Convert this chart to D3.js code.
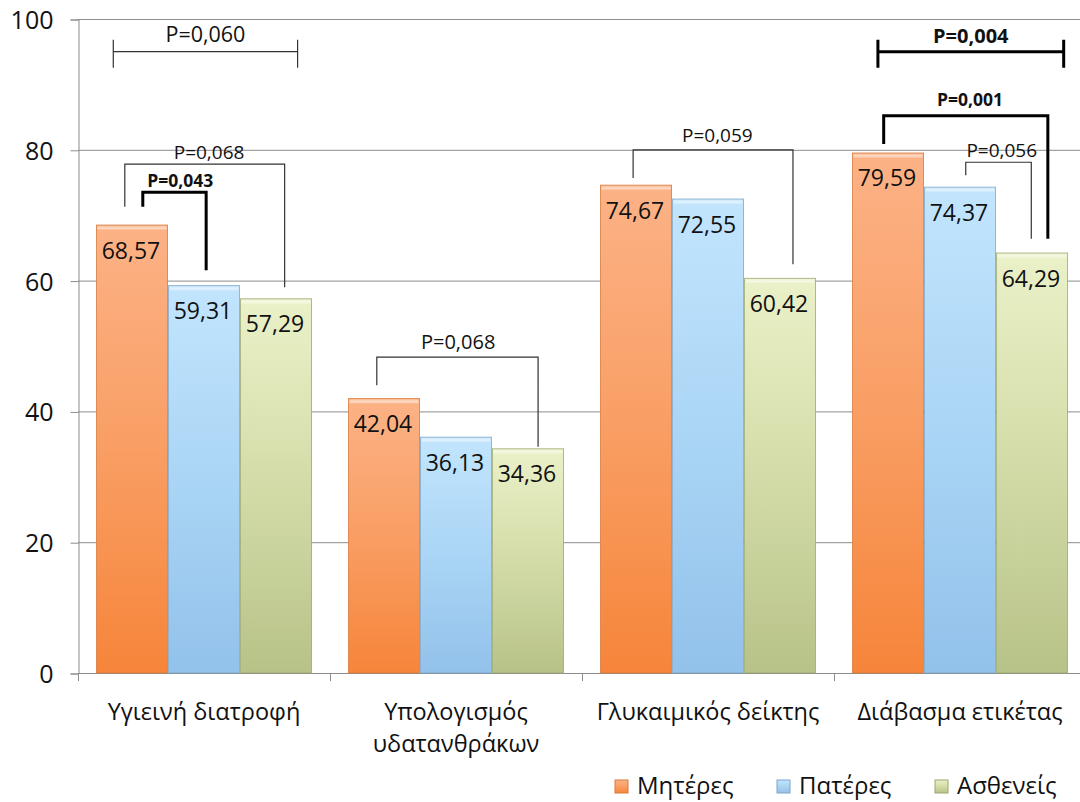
<!DOCTYPE html>
<html>
<head>
<meta charset="utf-8">
<script src="https://cdn.jsdelivr.net/npm/d3@7"></script>
<style>
  html, body { margin: 0; padding: 0; background: #fff; }
  svg { display: block; font-family: "Open Sans", "Noto Sans", sans-serif; }
</style>
</head>
<body>
<svg id="chart" width="1080" height="802"></svg>
<script>
// Categories and series values
const categories = ["Υγιεινή διατροφή", "Υπολογισμός υδατανθράκων", "Γλυκαιμικός δείκτης", "Διάβασμα ετικέτας"];
const seriesNames = ["Μητέρες", "Πατέρες", "Ασθενείς"];
const mothers  = [68.57, 42.04, 74.67, 79.59];
const fathers  = [59.31, 36.13, 72.55, 74.37];
const patients = [57.29, 34.36, 60.42, 64.29];
const yTicks = [0, 20, 40, 60, 80, 100];

// Significance brackets: group index, bar-unit offsets (u), value levels (v)
// kind "span": horizontal bar with end caps; kind "link": connector between bars
const brackets = [
  { g: 0, kind: "span", u0: 0.24, u1: 2.80, v: 95.0, label: "P=0,060", bold: false, size: 21.5, lv: 97.6 },
  { g: 0, kind: "link", u0: 0.40, u1: 2.62, vTop: 77.8, v0: 71.3, v1: 59.0, label: "P=0,068", bold: false, size: 19, lx: 1.57, lv: 79.6 },
  { g: 0, kind: "link", u0: 0.65, u1: 1.53, vTop: 73.5, v0: 71.3, v1: 61.6, label: "P=0,043", bold: true, size: 17.5, lx: 1.17, lv: 75.2 },
  { g: 1, kind: "link", u0: 0.40, u1: 2.64, vTop: 48.3, v0: 44.0, v1: 34.6, label: "P=0,068", bold: false, size: 20, lx: 1.53, lv: 50.6 },
  { g: 2, kind: "link", u0: 0.46, u1: 2.68, vTop: 80.0, v0: 75.7, v1: 62.5, label: "P=0,059", bold: false, size: 19, lx: 1.63, lv: 82.3 },
  { g: 3, kind: "span", u0: 0.36, u1: 2.94, v: 95.0, label: "P=0,004", bold: true, size: 20, lv: 97.4 },
  { g: 3, kind: "link", u0: 0.44, u1: 2.72, vTop: 85.2, v0: 80.9, v1: 66.4, label: "P=0,001", bold: true, size: 17.5, lx: 1.64, lv: 87.6 },
  { g: 3, kind: "link", u0: 1.58, u1: 2.49, vTop: 78.1, v0: 76.1, v1: 66.4, label: "P=0,056", bold: false, size: 19, lx: 2.08, lv: 80.0 }
];

const series = [mothers, fathers, patients];

const svg = d3.select("#chart");
const W = 1080, H = 802;
svg.append("rect").attr("width", W).attr("height", H).attr("fill", "#fff");

const plotLeft = 78, step = 252;
const x = d3.scaleBand()
  .domain(categories)
  .range([plotLeft, plotLeft + step * categories.length])
  .paddingInner(1 / 7)
  .paddingOuter(1 / 14);
const bw = x.bandwidth() / seriesNames.length;
const xs = d3.scaleBand().domain(seriesNames).range([0, x.bandwidth()]);

const y = d3.scaleLinear().domain([0, 100]).range([673, 19]);

const fmt = d3.formatLocale({ decimal: ",", thousands: ".", grouping: [3], currency: ["", "€"] }).format(".2f");

// Gradients for bar fills (lighter at the top, saturated at the base)
const palette = [
  { top: "#fcb286", mid: "#f99e64", bot: "#f6853a", edge: "#d77a3e" },
  { top: "#c2e5fd", mid: "#aad5f5", bot: "#92c1ea", edge: "#7ea6c8" },
  { top: "#ebf1c8", mid: "#d3dca8", bot: "#b7c288", edge: "#9ba870" }
];
const defs = svg.append("defs");
palette.forEach((p, i) => {
  const g = defs.append("linearGradient").attr("id", "grad" + i)
    .attr("x1", 0).attr("y1", 0).attr("x2", 0).attr("y2", 1);
  g.append("stop").attr("offset", "0%").attr("stop-color", p.top);
  g.append("stop").attr("offset", "50%").attr("stop-color", p.mid);
  g.append("stop").attr("offset", "100%").attr("stop-color", p.bot);
});
const bevel = defs.append("linearGradient").attr("id", "bevel")
  .attr("x1", 0).attr("y1", 0).attr("x2", 0).attr("y2", 1);
bevel.append("stop").attr("offset", "0%").attr("stop-color", "#fff").attr("stop-opacity", 0.1);
bevel.append("stop").attr("offset", "50%").attr("stop-color", "#fff").attr("stop-opacity", 0.55);
bevel.append("stop").attr("offset", "100%").attr("stop-color", "#fff").attr("stop-opacity", 0);

// Gridlines
svg.append("g").selectAll("line").data(yTicks.filter(d => d > 0)).join("line")
  .attr("x1", plotLeft).attr("x2", W)
  .attr("y1", d => y(d) + 0.5).attr("y2", d => y(d) + 0.5)
  .attr("stroke", "#8c8c8c").attr("stroke-width", 1);

// Y axis
const yAxis = svg.append("g").attr("transform", `translate(${plotLeft + 0.5},0.5)`)
  .call(d3.axisLeft(y).tickValues(yTicks).tickSize(8).tickPadding(17));
yAxis.select(".domain").attr("stroke", "#8c8c8c");
yAxis.selectAll(".tick line").attr("stroke", "#8c8c8c");
yAxis.selectAll(".tick text")
  .attr("font-family", "'Open Sans', 'Noto Sans', sans-serif")
  .attr("font-size", 25).attr("fill", "#111").attr("dy", "0.36em");

// X axis with category tick marks at band boundaries
const xAxisG = svg.append("g");
xAxisG.append("line").attr("x1", plotLeft).attr("x2", W)
  .attr("y1", y(0) + 0.5).attr("y2", y(0) + 0.5).attr("stroke", "#8c8c8c");
xAxisG.selectAll("line.tk").data(d3.range(categories.length + 1)).join("line")
  .attr("class", "tk")
  .attr("x1", i => plotLeft + i * x.step() + 0.5).attr("x2", i => plotLeft + i * x.step() + 0.5)
  .attr("y1", y(0)).attr("y2", y(0) + 8)
  .attr("stroke", "#8c8c8c");

// Category labels, wrapped when wider than the band
const catText = svg.append("g").selectAll("text").data(categories).join("text")
  .attr("x", d => x(d) + x.bandwidth() / 2)
  .attr("y", 720)
  .attr("text-anchor", "middle")
  .attr("font-size", 23.5).attr("fill", "#111");
catText.each(function (d) {
  const t = d3.select(this);
  t.text(d);
  if (this.getComputedTextLength() > x.step() - 4) {
    const words = d.split(" ");
    t.text(null);
    words.forEach((w, i) => {
      t.append("tspan").attr("x", x(d) + x.bandwidth() / 2)
        .attr("dy", i === 0 ? 0 : 32).text(w);
    });
  }
});

// Bars
const groups = svg.append("g").selectAll("g").data(categories).join("g")
  .attr("transform", d => `translate(${x(d)},0)`);

const cells = groups.selectAll("g.bar")
  .data((d, ci) => seriesNames.map((s, si) => ({ s, si, v: series[si][ci] })))
  .join("g").attr("class", "bar");

cells.append("rect")
  .attr("x", d => xs(d.s) + 0.5).attr("width", bw - 1)
  .attr("y", d => y(d.v) + 0.5).attr("height", d => y(0) - y(d.v) - 0.5)
  .attr("fill", d => `url(#grad${d.si})`)
  .attr("stroke", d => palette[d.si].edge).attr("stroke-opacity", 0.8).attr("stroke-width", 1);
cells.append("rect")
  .attr("x", d => xs(d.s) + 1.5).attr("width", bw - 3)
  .attr("y", d => y(d.v) + 1).attr("height", 5)
  .attr("fill", "url(#bevel)");

cells.append("text")
  .attr("x", d => xs(d.s) + bw / 2 - 1)
  .attr("y", d => y(d.v) + 34)
  .attr("text-anchor", "middle")
  .attr("font-size", 23).attr("fill", "#111")
  .text(d => fmt(d.v));

// Significance brackets
const bx = (g, u) => x(categories[g]) + u * bw;
const bG = svg.append("g").attr("fill", "none");
brackets.forEach(b => {
  const color = b.bold ? "#000" : "#333";
  const sw = b.bold ? 3 : 1.2;
  let path, lx;
  if (b.kind === "span") {
    const x0 = bx(b.g, b.u0), x1 = bx(b.g, b.u1), yy = y(b.v);
    path = `M${x0},${yy}H${x1}M${x0},${yy - 12}V${yy + 16}M${x1},${yy - 12}V${yy + 16}`;
    lx = (x0 + x1) / 2;
  } else {
    const x0 = bx(b.g, b.u0), x1 = bx(b.g, b.u1);
    path = `M${x0},${y(b.v0)}V${y(b.vTop)}H${x1}V${y(b.v1)}`;
    lx = bx(b.g, b.lx);
  }
  bG.append("path").attr("d", path).attr("stroke", color).attr("stroke-width", sw)
    .attr("stroke-linejoin", "miter");
  svg.append("text")
    .attr("x", lx).attr("y", y(b.lv)).attr("dy", "0.36em")
    .attr("text-anchor", "middle")
    .attr("font-size", b.size)
    .attr("font-weight", b.bold ? "bold" : "normal")
    .attr("fill", "#111")
    .text(b.label);
});

// Legend
const legendX = [615, 777, 935];
const legend = svg.append("g").selectAll("g").data(seriesNames).join("g")
  .attr("transform", (d, i) => `translate(${legendX[i]},780)`);
legend.append("rect").attr("width", 13).attr("height", 13)
  .attr("fill", (d, i) => `url(#grad${i})`)
  .attr("stroke", (d, i) => palette[i].edge);
legend.append("text").attr("x", 22).attr("y", 14)
  .attr("font-size", 24).attr("fill", "#111")
  .text(d => d);
</script>
</body>
</html>
